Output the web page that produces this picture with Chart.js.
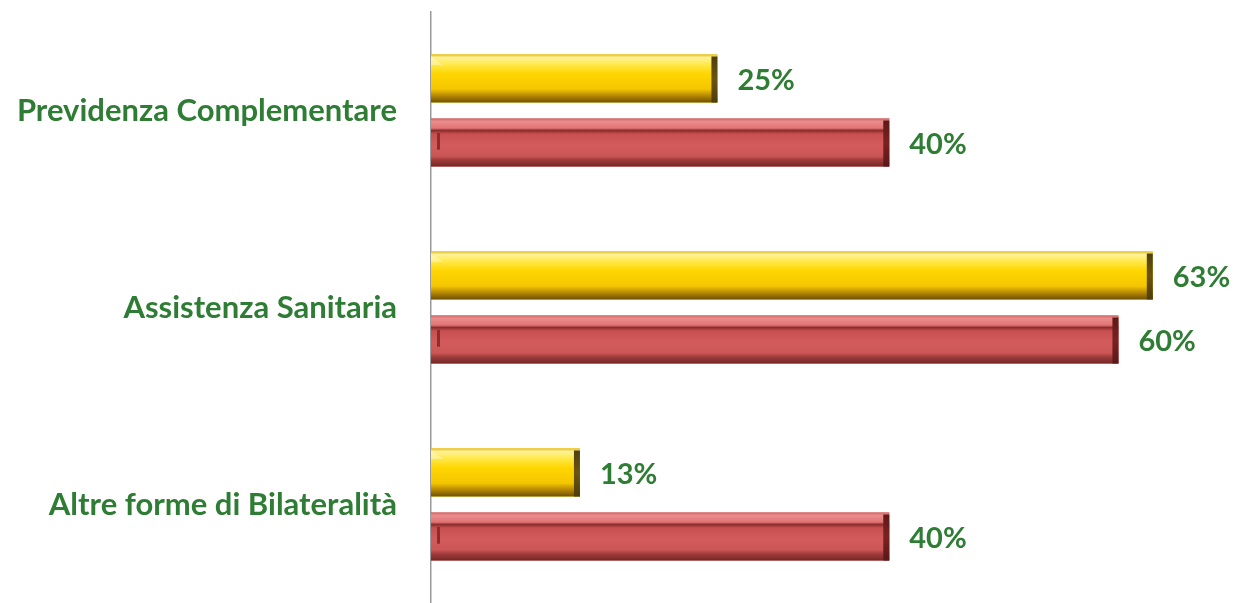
<!DOCTYPE html>
<html><head><meta charset="utf-8">
<script src="https://cdn.jsdelivr.net/npm/chart.js@4/dist/chart.umd.min.js"></script>
<style>html,body{margin:0;padding:0;background:#fff}#wrap{width:1236px;height:603px;position:relative}</style>
</head><body><div id="wrap"><canvas id="c"></canvas></div>
<script>
const categories = ['Previdenza Complementare', 'Assistenza Sanitaria', 'Altre forme di Bilateralità'];
const seriesYellow = [25, 63, 13];
const seriesRed = [40, 60, 40];
const xMax = 70;

const GREEN = '#2f7d34';
const FONT = 'Lato';

const stopsYellow = [[0,'#e2b818'],[0.06,'#fff29a'],[0.2,'#ffe94e'],[0.4,'#ffd600'],[0.72,'#f4c600'],[0.84,'#bf9000'],[1,'#6e5000']];
const stopsRed = [[0,'#d26464'],[0.06,'#ea8c8c'],[0.2,'#e27474'],[0.25,'#8c2c2c'],[0.32,'#c84f4f'],[0.55,'#d35b5b'],[0.78,'#cc5656'],[0.86,'#a03c3c'],[1,'#762626']];

const bevelPlugin = {
  id: 'bevel',
  afterDatasetsDraw(chart) {
    const ctx = chart.ctx;
    chart.data.datasets.forEach((ds, di) => {
      const meta = chart.getDatasetMeta(di);
      const stops = di === 0 ? stopsYellow : stopsRed;
      const cap = di === 0 ? '#4d3d0c' : '#5a1818';
      meta.data.forEach(el => {
        const p = el.getProps(['x','y','base','height'], true);
        const l = Math.min(p.base, p.x), r = Math.max(p.base, p.x);
        const t = p.y - p.height / 2, b = p.y + p.height / 2;
        ctx.save();
        const g = ctx.createLinearGradient(0, t, 0, b);
        stops.forEach(s => g.addColorStop(s[0], s[1]));
        ctx.fillStyle = g;
        ctx.fillRect(l, t, r - l, b - t);
        const cg = ctx.createLinearGradient(0, t, 0, b);
        cg.addColorStop(0, cap); cg.addColorStop(0.5, di === 0 ? '#6b5410' : '#7a2222'); cg.addColorStop(1, cap);
        ctx.fillStyle = cg;
        ctx.fillRect(r - 6, t + 2, 6, b - t - 2);
        if (di === 1) {
          ctx.fillStyle = '#8c2c2c';
          ctx.fillRect(l + 6, t + (b - t) * 0.3, 3, (b - t) * 0.35);
        } else {
          ctx.fillStyle = 'rgba(255,250,200,0.5)';
          ctx.beginPath();
          ctx.moveTo(l, t + 2); ctx.lineTo(l + 12, t + (b - t) * 0.22); ctx.lineTo(l, t + (b - t) * 0.22); ctx.closePath(); ctx.fill();
        }
        ctx.restore();
      });
    });
  }
};

const valuePlugin = {
  id: 'values',
  afterDatasetsDraw(chart) {
    const ctx = chart.ctx;
    ctx.save();
    ctx.font = 'bold 29px ' + FONT;
    ctx.fillStyle = GREEN;
    ctx.textAlign = 'left';
    ctx.textBaseline = 'middle';
    chart.data.datasets.forEach((ds, di) => {
      const meta = chart.getDatasetMeta(di);
      meta.data.forEach((el, i) => {
        const p = el.getProps(['x','y'], true);
        ctx.fillText(ds.data[i] + '%', p.x + 20, p.y + 2);
      });
    });
    ctx.restore();
  }
};

new Chart(document.getElementById('c'), {
  type: 'bar',
  data: {
    labels: categories,
    datasets: [
      { data: seriesYellow, backgroundColor: '#ffd200', barPercentage: 0.75, categoryPercentage: 0.65 },
      { data: seriesRed, backgroundColor: '#d05a5a', barPercentage: 0.75, categoryPercentage: 0.65 }
    ]
  },
  options: {
    indexAxis: 'y',
    responsive: true,
    maintainAspectRatio: false,
    animation: false,
    layout: { padding: { top: 12, bottom: 0, left: 0, right: 3 } },
    plugins: { legend: { display: false }, tooltip: { enabled: false } },
    scales: {
      x: { display: false, min: 0, max: xMax },
      y: {
        grid: { display: false, drawTicks: false },
        border: { display: true, color: '#9a9a9a', width: 1.5 },
        ticks: { color: GREEN, padding: 34, font: { family: FONT, size: 31, weight: 'bold' } },
        afterFit(scale) { scale.width = 431; scale.paddingTop = 0; scale.paddingBottom = 0; }
      }
    }
  },
  plugins: [bevelPlugin, valuePlugin]
});
</script>
</body></html>
